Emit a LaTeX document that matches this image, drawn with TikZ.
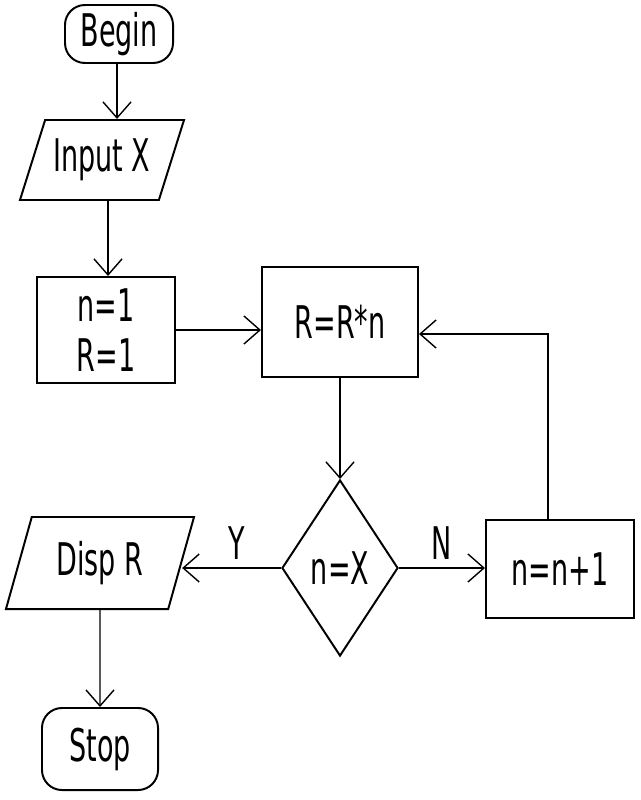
\documentclass[tikz,border=0pt]{standalone}
\usepackage{fontspec}
\usepackage{tikz}
\usetikzlibrary{arrows.meta,positioning,shapes.geometric,calc}
\newfontfamily\handfont{DejaVu Sans}[FakeStretch=0.6]

\begin{document}
\begin{tikzpicture}[
  x=0.025cm, y=-0.025cm,
  font=\handfont\fontsize{32}{36}\selectfont,
  term/.style={rectangle,rounded corners=0.5cm,draw,line width=1.4pt,minimum width=2.7cm,minimum height=1.45cm,align=center},
  proc/.style={rectangle,draw,line width=1.4pt,align=center},
  io/.style={trapezium,trapezium left angle=64,trapezium right angle=116,trapezium stretches body,draw,line width=1.4pt,align=center},
  test/.style={diamond,draw,line width=1.4pt,minimum width=2.9cm,minimum height=4.4cm,inner sep=0pt},
  line/.style={-{Straight Barb[length=4mm,width=7mm]},line width=1pt}
]
  \useasboundingbox (0,0) rectangle (640,800);

  \node[term] (begin) at (119,34) {Begin};
  \node[io,minimum width=4.1cm,minimum height=2cm] (input) at (102,160) {Input X};
  \node[proc,minimum width=3.45cm,minimum height=2.65cm] (init) at (106,330) {n=1\\R=1};
  \node[proc,minimum width=3.9cm,minimum height=2.75cm] (calc) at (340,322) {R=R*n};
  \node[test] (check) at (340,568) {n=X};
  \node[proc,minimum width=3.7cm,minimum height=2.45cm] (incr) at (560,569) {n=n+1};
  \node[io,minimum width=4.7cm,minimum height=2.3cm] (disp) at (100,563) {Disp R};
  \node[term,minimum width=2.9cm,minimum height=2.05cm] (stop) at (100,749) {Stop};

  \draw[line] ([xshift=-0.05cm]begin.south) -- ([xshift=-0.05cm]begin.south |- input.north);
  \draw[line] ([xshift=0.15cm]input.south) -- ([xshift=0.15cm]input.south |- init.north);
  \draw[line] (init.east) -- (init.east -| calc.west);
  \draw[line] (calc) -- (check);
  \draw[line] (check.east) -- node[above=2pt] {N} (incr.west |- check.east);
  \draw[line] (check.west) -- node[above=2pt,pos=0.45] {Y} (disp.east |- check.west);
  \draw[line] ([xshift=-0.3cm]incr.north) |- ([yshift=-0.3cm]calc.east);
  \draw[line] (disp) -- (stop);
\end{tikzpicture}
\end{document}
